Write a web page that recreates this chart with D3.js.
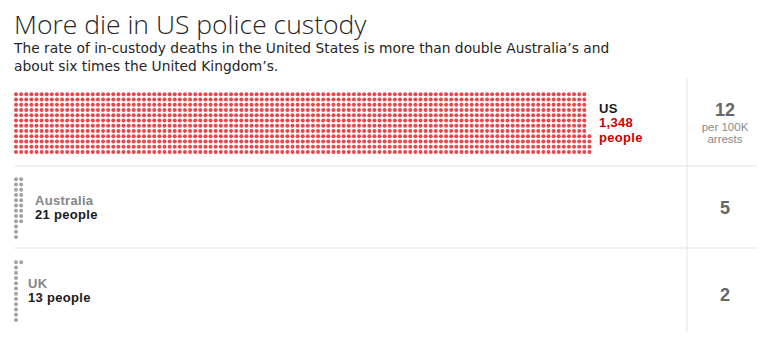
<!DOCTYPE html>
<html>
<head>
<meta charset="utf-8">
<script src="https://cdn.jsdelivr.net/npm/d3@7"></script>
<style>
  html, body { margin: 0; padding: 0; background: #fff; }
  svg { display: block; font-family: "Liberation Sans", Arial, sans-serif; }
</style>
</head>
<body>
<svg id="chart" width="760" height="341"></svg>
<script>
// Deaths in police custody, by country
const countries = ["US", "Australia", "UK"];
const deaths = [1348, 21, 13];
const ratePer100K = [12, 5, 2];
const rateUnitLines = ["per 100K", "arrests"];
const titleText = "More die in US police custody";
const subtitleLines = [
  "The rate of in-custody deaths in the United States is more than double Australia\u2019s and",
  "about six times the United Kingdom\u2019s."
];

const W = 760, H = 341;
const svg = d3.select("#chart");

// Layout
const left = 14, right = 757;
const dividerX = 687;
const rateX = 725;
const rowsPerColumn = 12;
const bandEdges = [78, 166, 248, 332];
const rateBandEdges = [78, 166, 248, 340];
const colStep = 5.12, rowStep = 5.25, dotR = 2;
const dotX0 = 16;

const bandTop = d3.scaleOrdinal().domain(countries).range(bandEdges.slice(0, 3));
const bandBottom = d3.scaleOrdinal().domain(countries).range(bandEdges.slice(1));
const bandMid = c => (bandTop(c) + bandBottom(c)) / 2;
const rateMid = d3.scaleOrdinal().domain(countries)
  .range(d3.range(3).map(i => (rateBandEdges[i] + rateBandEdges[i + 1]) / 2));

const dotColor = d3.scaleOrdinal().domain(countries).range(["#e8474c", "#a3a3a3", "#a3a3a3"]);
// the last, partly filled column hangs from the bottom for the US and from the top elsewhere
const partialAlign = d3.scaleOrdinal().domain(countries).range(["bottom", "top", "top"]);

const maxCols = Math.ceil(d3.max(deaths) / rowsPerColumn);
const xCol = d3.scaleLinear().domain([0, maxCols - 1]).range([dotX0, dotX0 + (maxCols - 1) * colStep]);
const yRow = d3.scaleLinear().domain([0, rowsPerColumn - 1]).range([0, (rowsPerColumn - 1) * rowStep]);
const blockH = yRow(rowsPerColumn - 1);

// Title and subtitle
svg.append("text")
  .attr("x", left).attr("y", 34)
  .attr("fill", "#262626")
  .style("font-family", "'Open Sans', sans-serif")
  .style("font-size", "26.5px")
  .style("font-weight", 300)
  .text(titleText);

svg.append("text")
  .attr("fill", "#262626")
  .style("font-family", "'DejaVu Sans', sans-serif")
  .style("font-size", "13.8px")
  .selectAll("tspan")
  .data(subtitleLines)
  .join("tspan")
  .attr("x", left)
  .attr("y", (d, i) => 53 + i * 18)
  .text(d => d);

// Grid lines
svg.append("g")
  .selectAll("line")
  .data(bandEdges.slice(1, 3))
  .join("line")
  .attr("x1", left).attr("x2", right)
  .attr("y1", d => d).attr("y2", d => d)
  .attr("stroke", "#e5e5e5").attr("stroke-width", 1);

svg.append("line")
  .attr("x1", dividerX).attr("x2", dividerX)
  .attr("y1", bandEdges[0]).attr("y2", bandEdges[3])
  .attr("stroke", "#e5e5e5").attr("stroke-width", 1);

// Dot grids: one dot per death
const rows = countries.map((c, i) => ({ country: c, n: deaths[i], rate: ratePer100K[i] }));

rows.forEach(r => {
  const top = bandMid(r.country) - blockH / 2 + 1;
  const full = Math.floor(r.n / rowsPerColumn);
  const rem = r.n % rowsPerColumn;
  const dots = d3.range(r.n).map(i => {
    const col = Math.floor(i / rowsPerColumn);
    let row = i % rowsPerColumn;
    if (col === full && partialAlign(r.country) === "bottom") row += rowsPerColumn - rem;
    return { col, row };
  });
  svg.append("g")
    .selectAll("circle")
    .data(dots)
    .join("circle")
    .attr("cx", d => xCol(d.col))
    .attr("cy", d => top + yRow(d.row))
    .attr("r", dotR)
    .attr("fill", dotColor(r.country));
});

// Country labels
const fmt = d3.format(",");
const labelX = d3.scaleOrdinal().domain(countries).range([599, 35, 28]);
const labelLines = r => r.country === "US"
  ? [{ t: r.country, c: "#1a1a1a" }, { t: fmt(r.n), c: "#cc0000" }, { t: "people", c: "#cc0000" }]
  : [{ t: r.country, c: "#858585" }, { t: fmt(r.n) + " people", c: "#1a1a1a" }];

rows.forEach(r => {
  const lines = labelLines(r);
  const lh = 14.5;
  const firstBase = bandMid(r.country) + 5 - (lines.length - 1) * lh / 2;
  svg.append("text")
    .style("font-size", "13px")
    .style("font-weight", 700)
    .style("letter-spacing", "0.3px")
    .selectAll("tspan")
    .data(lines)
    .join("tspan")
    .attr("x", labelX(r.country))
    .attr("y", (d, i) => firstBase + i * lh)
    .attr("fill", d => d.c)
    .text(d => d.t);
});

// Rates per 100K arrests
rows.forEach((r, i) => {
  const g = svg.append("g").attr("text-anchor", "middle");
  const mid = rateMid(r.country);
  if (i === 0) {
    g.append("text")
      .attr("x", rateX).attr("y", mid - 6)
      .attr("fill", "#666")
      .style("font-size", "18px").style("font-weight", 700)
      .text(r.rate);
    g.append("text")
      .attr("fill", "#8a8a8a")
      .style("font-size", "11.5px")
      .selectAll("tspan")
      .data(rateUnitLines)
      .join("tspan")
      .attr("x", rateX)
      .attr("y", (d, j) => mid + 8.5 + j * 12.8)
      .text(d => d);
  } else {
    g.append("text")
      .attr("x", rateX).attr("y", mid + 7)
      .attr("fill", "#666")
      .style("font-size", "18px").style("font-weight", 700)
      .text(r.rate);
  }
});
</script>
</body>
</html>
